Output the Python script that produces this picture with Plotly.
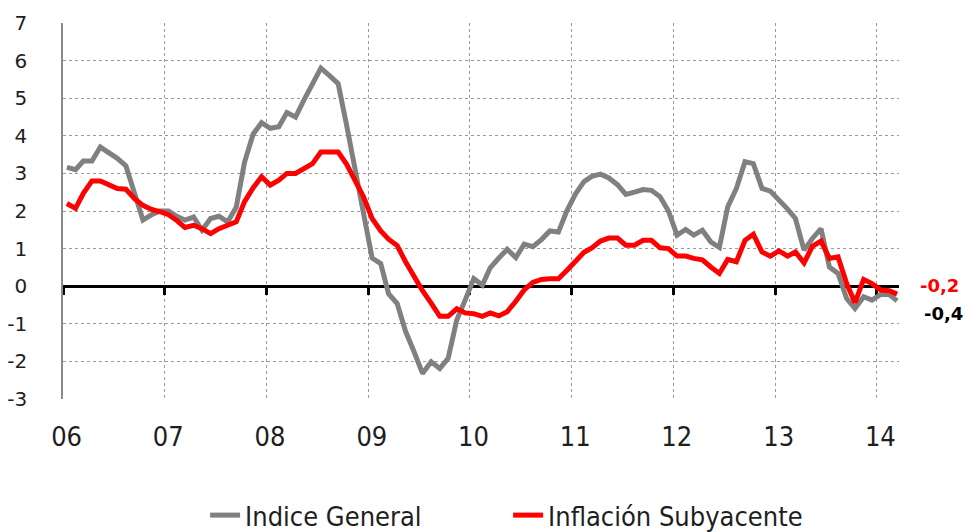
import numpy as np
import pandas as pd
import plotly.graph_objects as go

# Monthly data, Jan 2006 - Mar 2014 (year-on-year %)
months = pd.date_range("2006-01-01", periods=99, freq="MS")

indice_general = [
    3.16, 3.10, 3.33, 3.33, 3.70, 3.55, 3.40, 3.20, 2.45, 1.76, 1.90, 2.00,   # 2006
    2.00, 1.85, 1.76, 1.84, 1.49, 1.80, 1.86, 1.71, 2.10, 3.30, 4.05, 4.35,   # 2007
    4.20, 4.24, 4.62, 4.50, 4.95, 5.35, 5.80, 5.60, 5.39, 4.30, 3.10, 1.80,   # 2008
    0.75, 0.60, -0.20, -0.46, -1.20, -1.75, -2.32, -2.01, -2.19, -1.92, -0.90, -0.37,  # 2009
    0.20, 0.03, 0.49, 0.75, 0.98, 0.76, 1.12, 1.05, 1.24, 1.47, 1.44, 2.00,   # 2010
    2.45, 2.78, 2.92, 2.98, 2.88, 2.70, 2.44, 2.50, 2.57, 2.55, 2.38, 2.00,   # 2011
    1.36, 1.51, 1.36, 1.49, 1.18, 1.03, 2.11, 2.60, 3.31, 3.26, 2.60, 2.53,   # 2012
    2.30, 2.05, 1.80, 0.96, 1.27, 1.53, 0.51, 0.34, -0.33, -0.59, -0.28, -0.37,  # 2013
    -0.22, -0.22, -0.39,                                                      # 2014
]

inflacion_subyacente = [
    2.20, 2.07, 2.47, 2.80, 2.80, 2.69, 2.60, 2.58, 2.33, 2.15, 2.04, 1.98,   # 2006
    1.90, 1.74, 1.56, 1.62, 1.53, 1.40, 1.53, 1.62, 1.71, 2.25, 2.62, 2.91,   # 2007
    2.69, 2.82, 3.00, 3.00, 3.13, 3.26, 3.57, 3.57, 3.57, 3.25, 2.80, 2.38,   # 2008
    1.80, 1.47, 1.25, 1.08, 0.65, 0.25, -0.12, -0.45, -0.80, -0.80, -0.60, -0.71,  # 2009
    -0.73, -0.80, -0.71, -0.79, -0.68, -0.40, -0.10, 0.10, 0.18, 0.20, 0.20, 0.42,  # 2010
    0.65, 0.90, 1.02, 1.20, 1.28, 1.28, 1.09, 1.09, 1.22, 1.22, 1.02, 1.00,   # 2011
    0.80, 0.80, 0.74, 0.70, 0.51, 0.34, 0.71, 0.65, 1.22, 1.38, 0.91, 0.80,   # 2012
    0.94, 0.80, 0.91, 0.62, 1.06, 1.20, 0.74, 0.78, 0.07, -0.44, 0.18, 0.07,  # 2013
    -0.10, -0.12, -0.21,                                                      # 2014
]

year_labels = ["06", "07", "08", "09", "10", "11", "12", "13", "14"]
year_starts = pd.date_range("2006-01-01", "2014-01-01", freq="YS")
y_ticks = list(range(-3, 8))
y_tick_labels = ["-3", "-2", "-1", "0", "1", "2", "3", "4", "5", "6", "7"]

last_general_label = "-0,4"
last_core_label = "-0,2"

GRAY = "#808080"
RED = "#FF0000"
TEXT = "#1E1E1E"
NARROW = "Liberation Sans Narrow, DejaVu Sans Condensed, Arial Narrow, sans-serif"
WIDE = "DejaVu Sans, Verdana, sans-serif"

# points sit in the middle of each month
x_pts = months + pd.Timedelta(days=14)
x_range = [pd.Timestamp("2006-01-01"), pd.Timestamp("2014-03-22")]

fig = go.Figure()
fig.add_trace(go.Scatter(
    x=x_pts, y=indice_general, name="Indice General", mode="lines",
    line=dict(color=GRAY, width=5), hoverinfo="x+y",
))
fig.add_trace(go.Scatter(
    x=x_pts, y=inflacion_subyacente, name="Inflación Subyacente", mode="lines",
    line=dict(color=RED, width=5), hoverinfo="x+y",
))
# helper trace so the overlaid axis (zero line with year ticks + vertical grid) exists
fig.add_trace(go.Scatter(
    x=[x_pts[0]], y=[0], xaxis="x2", mode="lines", showlegend=False,
    hoverinfo="skip", line=dict(width=0),
))

fig.update_layout(
    width=965, height=532,
    margin=dict(l=63, r=66, t=23, b=133, autoexpand=False),
    paper_bgcolor="white", plot_bgcolor="white",
    showlegend=True,
    legend=dict(
        orientation="h", x=0.17, xanchor="left", y=-0.31, yanchor="middle",
        font=dict(family=NARROW, size=27, color=TEXT),
        itemwidth=30, entrywidth=258, entrywidthmode="pixels", tracegroupgap=0,
    ),
    xaxis=dict(
        type="date", range=x_range,
        tickmode="array", tickvals=list(year_starts + pd.Timedelta(days=13)),
        ticktext=year_labels,
        showgrid=False, zeroline=False, showline=False,
        ticks="", ticklabelstandoff=19,
        tickfont=dict(family=NARROW, size=27, color=TEXT),
        automargin=False,
    ),
    xaxis2=dict(
        type="date", range=x_range, overlaying="x", anchor="free", position=0.3,
        side="bottom",
        tickmode="array", tickvals=list(year_starts), showticklabels=False,
        showgrid=True, gridcolor="#9A9A9A", gridwidth=1.3, griddash="dot",
        zeroline=False,
        showline=True, linecolor="black", linewidth=3,
        ticks="outside", ticklen=7, tickwidth=3, tickcolor="black",
        layer="below traces", automargin=False,
    ),
    yaxis=dict(
        range=[-3, 7], tickmode="array", tickvals=y_ticks, ticktext=y_tick_labels,
        showgrid=True, gridcolor="#9A9A9A", gridwidth=1.3, griddash="dot",
        zeroline=False,
        showline=True, linecolor="#8A8A8A", linewidth=1.5,
        ticks="", ticklabelstandoff=30,
        tickfont=dict(family=WIDE, size=20, color=TEXT),
        automargin=False,
    ),
    annotations=[
        dict(xref="paper", yref="y", x=1.0, y=0.03, xanchor="left", yanchor="middle",
             xshift=19, text=last_core_label, showarrow=False,
             font=dict(family=WIDE, size=18, color=RED, weight="bold")),
        dict(xref="paper", yref="y", x=1.0, y=-0.72, xanchor="left", yanchor="middle",
             xshift=23, text=last_general_label, showarrow=False,
             font=dict(family=WIDE, size=18, color="black", weight="bold")),
    ],
)

fig.write_html(
    "out.html",
    config={"displayModeBar": False},
    post_script="document.body.style.margin='0';document.body.style.padding='0';",
)
